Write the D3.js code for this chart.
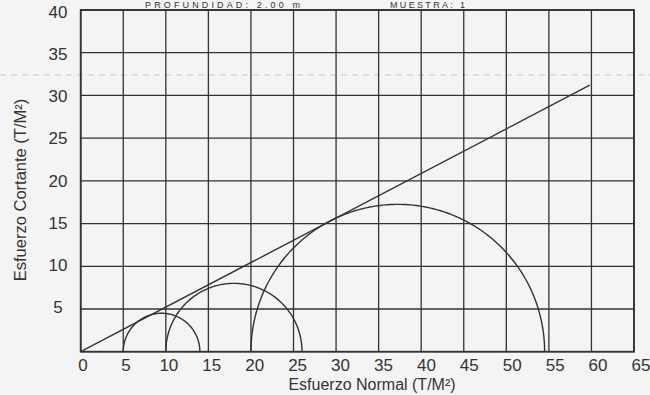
<!DOCTYPE html>
<html>
<head>
<meta charset="utf-8">
<script src="https://cdn.jsdelivr.net/npm/d3@7"></script>
<style>
  body { margin: 0; background: #f4f4f4; }
  text { font-family: "Liberation Sans", Arial, sans-serif; fill: #333; }
</style>
</head>
<body>
<div id="chart"></div>
<script>
// axis ticks
var xTicks = [0, 5, 10, 15, 20, 25, 30, 35, 40, 45, 50, 55, 60, 65];
var yTicks = [5, 10, 15, 20, 25, 30, 35, 40];

// Mohr circles: sigma3 / sigma1 (T/M2)
var sigma3 = [5, 10, 20];
var sigma1 = [14, 26, 54.5];

// failure envelope (start / end points)
var envSigma = [0, 59.8];
var envTau = [0, 31.2];

var width = 650;
var height = 395;

var svg = d3.select('#chart')
  .append('svg')
  .attr('width', width)
  .attr('height', height);

var x = d3.scaleLinear().domain([0, 65]).range([80.7, 634]);
var y = d3.scaleLinear().domain([0, 40]).range([351.7, 10]);
// tick labels on the original sit a bit off the grid lines
var xLab = d3.scaleLinear().domain([0, 65]).range([83, 641]);
var yLab = d3.scaleLinear().domain([5, 40]).range([307, 12]);

var ink = '#333';

// scan fold line
svg.append('line')
  .attr('x1', 0).attr('x2', width)
  .attr('y1', 75).attr('y2', 75)
  .attr('stroke', '#999')
  .attr('stroke-width', 1)
  .attr('stroke-dasharray', '6,5')
  .attr('opacity', 0.5);

// header (mostly off the top of the scan), kept small so it stays visible
svg.append('text')
  .attr('x', 145).attr('y', 8)
  .attr('textLength', 155)
  .attr('style', 'font-size: 9px')
  .text('PROFUNDIDAD: 2.00 m');
svg.append('text')
  .attr('x', 390).attr('y', 8)
  .attr('textLength', 75)
  .attr('style', 'font-size: 9px')
  .text('MUESTRA: 1');

// grid
var grid = svg.append('g');
grid.selectAll('.vline')
  .data(xTicks)
  .enter()
  .append('line')
  .attr('x1', function(d) { return x(d); })
  .attr('x2', function(d) { return x(d); })
  .attr('y1', y(0)).attr('y2', y(40))
  .attr('stroke', ink)
  .attr('stroke-width', 1.3);
grid.selectAll('.hline')
  .data([0].concat(yTicks))
  .enter()
  .append('line')
  .attr('x1', x(0)).attr('x2', x(65))
  .attr('y1', function(d) { return y(d); })
  .attr('y2', function(d) { return y(d); })
  .attr('stroke', ink)
  .attr('stroke-width', 1.3);

// frame
svg.append('rect')
  .attr('x', x(0)).attr('y', y(40))
  .attr('width', x(65) - x(0))
  .attr('height', y(0) - y(40))
  .attr('fill', 'none')
  .attr('stroke', ink)
  .attr('stroke-width', 1.8);

// circles (upper halves)
var circles = sigma3.map(function(s3, i) {
  return { c: (s3 + sigma1[i]) / 2, r: (sigma1[i] - s3) / 2 };
});
var arcLine = d3.line()
  .x(function(d) { return x(d[0]); })
  .y(function(d) { return y(d[1]); });

svg.selectAll('.mohr')
  .data(circles)
  .enter()
  .append('path')
  .attr('class', 'mohr')
  .attr('fill', 'none')
  .attr('stroke', ink)
  .attr('stroke-width', 1.4)
  .attr('d', function(d) {
    var pts = d3.range(0, 181).map(function(a) {
      var t = a * Math.PI / 180;
      return [d.c + d.r * Math.cos(t), d.r * Math.sin(t)];
    });
    return arcLine(pts);
  });

// envelope
svg.append('path')
  .attr('fill', 'none')
  .attr('stroke', ink)
  .attr('stroke-width', 1.4)
  .attr('d', arcLine(envSigma.map(function(s, i) { return [s, envTau[i]]; })));

// tick labels
svg.selectAll('.xl')
  .data(xTicks)
  .enter()
  .append('text')
  .attr('x', function(d) { return xLab(d); })
  .attr('y', 371)
  .attr('text-anchor', 'middle')
  .attr('style', 'font-size: 17px')
  .text(function(d) { return d; });

svg.selectAll('.yl')
  .data(yTicks)
  .enter()
  .append('text')
  .attr('x', 58)
  .attr('y', function(d) { return yLab(d); })
  .attr('dy', '0.35em')
  .attr('text-anchor', 'middle')
  .attr('style', 'font-size: 17px')
  .text(function(d) { return d; });

// axis titles
svg.append('text')
  .attr('x', 372).attr('y', 390)
  .attr('text-anchor', 'middle')
  .attr('style', 'font-size: 16px')
  .text('Esfuerzo Normal (T/M²)');

svg.append('text')
  .attr('transform', 'translate(26,190) rotate(-90)')
  .attr('text-anchor', 'middle')
  .attr('style', 'font-size: 16.5px')
  .text('Esfuerzo Cortante (T/M²)');
</script>
</body>
</html>
